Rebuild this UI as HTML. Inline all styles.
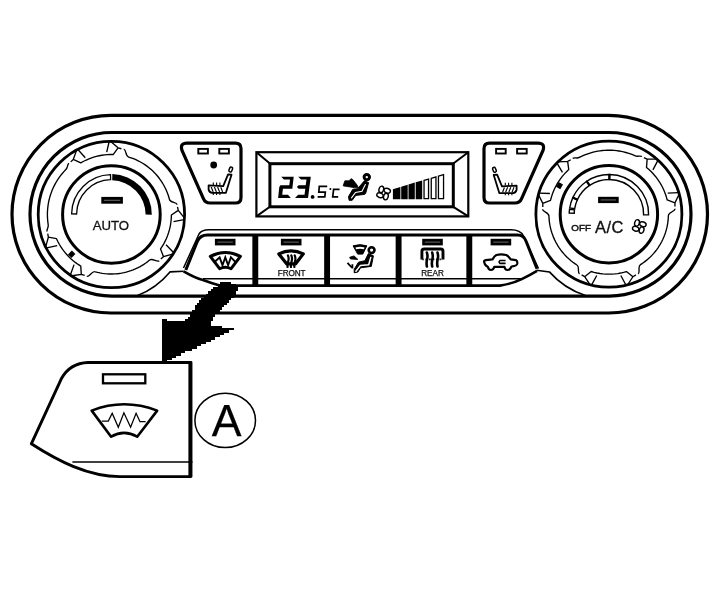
<!DOCTYPE html>
<html><head><meta charset="utf-8"><style>
html,body{margin:0;padding:0;background:#fff;}
svg{display:block;filter:grayscale(100%);}
text{font-family:"Liberation Sans",sans-serif;}
</style></head><body>
<svg width="720" height="591" viewBox="0 0 720 591">
<rect width="720" height="591" fill="#fff"/>
<rect x="12" y="115.4" width="695.5" height="197.6" rx="98.8" stroke="#000" fill="none" stroke-width="3.2"/>
<rect x="30" y="132.5" width="661" height="163.6" rx="81.8" stroke="#000" fill="none" stroke-width="3.2"/>
<circle cx="111.4" cy="214.5" r="73.2" stroke="#000" fill="none" stroke-width="2.8"/>
<path d="M111.02,141.70 L118.05,147.83 L121.46,148.77 M109.11,141.74 L106.71,152.18 M76.44,150.64 L73.26,159.42 L70.73,161.88 M78.12,149.75 L85.28,157.72 M45.86,246.18 L48.36,237.20 L47.74,233.72 M46.71,247.89 L57.16,245.56 M72.07,275.76 L81.30,274.36 L84.67,275.39 M70.48,274.71 L74.05,264.61 M172.46,254.15 L163.47,256.66 L160.82,259.00 M173.47,252.54 L166.06,244.80 M184.13,217.68 L178.28,210.41 L177.47,206.97 M184.02,219.58 L173.50,221.58 M118.05,147.83 L113.18,154.53 110.35,154.51 107.53,154.63 104.71,154.87 101.91,155.26 99.13,155.77 96.38,156.41 93.66,157.18 90.98,158.08 88.34,159.11 85.76,160.26 83.23,161.52 80.77,162.91 L73.26,159.42 M48.36,237.20 L56.50,238.71 57.83,241.51 59.29,244.24 60.90,246.89 62.63,249.46 64.50,251.93 66.50,254.30 68.61,256.56 70.84,258.71 73.17,260.75 75.61,262.66 78.15,264.44 80.77,266.09 L81.30,274.36 M163.47,256.66 L160.55,248.91 162.21,246.41 163.75,243.82 165.15,241.15 166.42,238.42 167.55,235.64 168.54,232.79 169.39,229.90 170.09,226.97 170.64,224.02 171.04,221.03 171.30,218.03 171.40,215.02 L178.28,210.41 M68.92,163.33 C66.73,165.24 68.41,167.09 65.60,169.80 L63.90,171.60 62.28,173.47 60.74,175.40 59.26,177.38 57.87,179.42 56.56,181.51 55.32,183.66 54.17,185.84 53.11,188.07 52.13,190.34 51.25,192.65 50.45,194.99 49.74,197.36 49.12,199.75 48.60,202.16 48.17,204.60 47.84,207.05 47.60,209.51 47.45,211.97 47.40,214.44 47.45,216.91 47.59,219.38 47.82,221.84 L48.15,224.29 C48.87,228.13 46.43,228.67 47.11,231.49 M86.81,276.29 C89.53,277.30 91.83,270.69 95.30,271.78 L97.63,272.39 99.99,272.90 102.36,273.31 104.75,273.63 107.15,273.85 109.56,273.97 111.97,274.00 114.38,273.93 116.78,273.76 119.17,273.49 121.56,273.13 123.92,272.67 126.27,272.11 128.59,271.46 130.88,270.72 133.14,269.89 135.37,268.96 137.55,267.94 139.70,266.84 141.79,265.65 143.84,264.38 145.83,263.03 147.77,261.59 L149.65,260.08 C152.36,257.66 157.18,262.74 159.24,260.69 M177.17,204.67 C176.68,201.81 170.30,203.05 169.49,199.48 L168.79,197.01 167.99,194.57 167.09,192.17 166.08,189.81 164.98,187.49 163.78,185.23 162.48,183.02 161.08,180.86 159.60,178.77 158.03,176.74 156.37,174.78 154.63,172.90 152.82,171.09 150.92,169.36 148.96,167.71 146.92,166.14 144.82,164.67 142.66,163.29 140.44,162.00 138.17,160.80 135.85,159.71 133.49,158.71 131.08,157.82 L128.64,157.03 C125.10,156.09 126.59,149.76 123.75,149.16" stroke="#000" fill="none" stroke-width="1.35" stroke-linejoin="round"/>
<rect x="69.2" y="251.5" width="5" height="5.5" fill="#000" transform="rotate(45 71.7 254.2)"/>
<circle cx="111.4" cy="214.5" r="48.8" stroke="#000" fill="none" stroke-width="3"/>
<path d="M71.60,213.94 A39.8,39.8 0 0 1 110.50,174.71 L110.61,179.71 A34.8,34.8 0 0 0 76.60,214.01 Z" stroke="#000" fill="none" stroke-width="1.3"/>
<path d="M112.32,174.11 A40.4,40.4 0 0 1 151.80,214.64 L145.60,214.62 A34.2,34.2 0 0 0 112.18,180.31 Z" fill="#000"/>
<rect x="101.3" y="196.9" width="21.6" height="6.8" fill="#000"/><path d="M103.89999999999999,200.3 L120.30000000000001,200.3" stroke="#777" stroke-width="0.9"/>
<text x="110.9" y="229.8" font-size="13.2" text-anchor="middle" fill="#111" stroke="#111" stroke-width="0.3">AUTO</text>
<circle cx="608.9" cy="214.2" r="73" stroke="#000" fill="none" stroke-width="2.8"/>
<path d="M538.68,194.99 L542.78,203.37 L542.80,206.90 M539.21,193.16 L549.91,193.54 M558.33,161.83 L567.65,161.40 L570.76,159.73 M556.98,163.17 L562.45,172.38 M656.47,159.09 L647.14,159.18 L643.94,157.68 M657.90,160.35 L652.94,169.85 M678.98,194.50 L674.94,202.91 L674.95,206.44 M678.44,192.67 L667.74,193.13 M627.74,284.52 L632.91,276.75 L635.95,274.95 M625.89,284.99 L620.83,275.55 M589.81,284.45 L584.67,276.67 L581.64,274.86 M591.66,284.93 L596.76,275.51 M542.78,203.37 L550.51,200.40 551.28,197.47 552.20,194.58 553.26,191.75 554.46,188.97 555.80,186.26 557.28,183.61 558.89,181.05 560.63,178.57 562.49,176.18 564.46,173.88 566.55,171.69 568.75,169.61 L567.65,161.40 M647.14,159.18 L646.50,167.44 648.99,169.56 651.36,171.81 653.61,174.19 655.73,176.69 657.70,179.29 659.53,182.01 661.21,184.81 662.74,187.71 664.10,190.68 665.30,193.73 666.33,196.83 667.19,199.99 L674.94,202.91 M632.91,276.75 L626.44,271.58 623.57,272.38 620.66,273.04 617.72,273.55 614.75,273.91 611.78,274.13 608.80,274.20 605.81,274.12 602.84,273.89 599.88,273.52 596.94,273.00 594.03,272.33 591.16,271.52 L584.67,276.67 M572.68,158.43 C575.15,156.90 576.42,159.06 579.84,157.18 L581.97,156.14 584.13,155.19 586.33,154.31 588.56,153.52 590.81,152.81 593.09,152.18 595.39,151.64 597.71,151.19 600.05,150.82 602.40,150.53 604.75,150.33 607.11,150.22 609.48,150.20 611.84,150.27 614.20,150.42 616.55,150.66 618.89,150.99 621.22,151.40 623.53,151.90 625.82,152.48 628.09,153.15 630.33,153.90 632.55,154.73 L634.73,155.64 C638.25,157.33 639.40,155.11 641.95,156.49 M675.18,208.75 C675.35,211.65 668.36,211.92 668.38,215.55 L668.28,218.00 668.07,220.45 667.76,222.88 667.36,225.30 666.85,227.70 666.24,230.08 665.54,232.43 664.74,234.75 663.85,237.03 662.86,239.28 661.78,241.48 660.61,243.63 659.35,245.74 658.01,247.79 656.58,249.79 655.07,251.73 653.49,253.60 651.83,255.40 650.09,257.14 648.29,258.80 646.42,260.38 644.48,261.89 642.48,263.32 L640.43,264.66 C637.29,266.49 640.63,272.64 638.05,273.97 M579.54,273.87 C576.97,272.53 580.09,266.83 576.93,264.97 L574.88,263.63 572.90,262.20 570.97,260.69 569.10,259.10 567.31,257.44 565.58,255.71 563.92,253.91 562.34,252.04 560.83,250.11 559.41,248.12 558.07,246.07 556.81,243.97 555.64,241.82 554.55,239.63 553.56,237.39 552.66,235.11 551.86,232.80 551.15,230.46 550.53,228.09 550.01,225.70 549.59,223.29 549.27,220.86 549.05,218.42 L548.93,215.98 C548.93,212.32 542.43,212.11 542.59,209.21" stroke="#000" fill="none" stroke-width="1.35" stroke-linejoin="round"/>
<rect x="557" y="183" width="5" height="5.5" fill="#000" transform="rotate(30 559.5 185.7)"/>
<circle cx="608.9" cy="214.2" r="48.7" stroke="#000" fill="none" stroke-width="3"/>
<path d="M569.22,213.02 A39.7,39.7 0 0 1 569.51,209.22 L574.47,209.85 A34.7,34.7 0 0 0 574.22,213.17 Z" stroke="#000" fill="none" stroke-width="1.4"/>
<path d="M569.69,207.99 A39.7,39.7 0 0 1 572.83,197.61 L577.37,199.70 A34.7,34.7 0 0 0 574.63,208.77 Z" stroke="#000" fill="none" stroke-width="1.4"/>
<path d="M572.83,197.61 A39.7,39.7 0 0 1 586.76,181.25 L589.55,185.40 A34.7,34.7 0 0 0 577.37,199.70 Z" stroke="#000" fill="none" stroke-width="1.4"/>
<path d="M586.76,181.25 A39.7,39.7 0 0 1 609.45,174.50 L609.38,179.50 A34.7,34.7 0 0 0 589.55,185.40 Z" stroke="#000" fill="none" stroke-width="1.4"/>
<path d="M609.45,174.50 A39.7,39.7 0 0 1 648.59,214.89 L643.59,214.81 A34.7,34.7 0 0 0 609.38,179.50 Z" stroke="#000" fill="none" stroke-width="1.4"/>
<path d="M577.56,199.78 L572.65,197.53" stroke="#000" fill="none" stroke-width="2.2"/>
<path d="M589.66,185.56 L586.65,181.08" stroke="#000" fill="none" stroke-width="2.2"/>
<path d="M609.38,179.70 L609.46,174.30" stroke="#000" fill="none" stroke-width="2.2"/>
<rect x="598.1" y="196.8" width="20.6" height="6.3" fill="#000"/><path d="M600.7,199.95000000000002 L616.1,199.95000000000002" stroke="#777" stroke-width="0.9"/>
<text x="571.2" y="230.5" font-size="9.8" fill="#111" stroke="#111" stroke-width="0.5" letter-spacing="0.1">OFF</text>
<text x="594.9" y="232.6" font-size="16.4" fill="#111" stroke="#111" stroke-width="0.35" letter-spacing="0.6">A/C</text>
<g transform="rotate(0 639.3 226.5)"><ellipse cx="637.00" cy="222.90" rx="2.30" ry="3.30" transform="rotate(18 637.00 222.90)" stroke="#000" fill="none" stroke-width="1.4"/></g><g transform="rotate(90 639.3 226.5)"><ellipse cx="637.00" cy="222.90" rx="2.30" ry="3.30" transform="rotate(18 637.00 222.90)" stroke="#000" fill="none" stroke-width="1.4"/></g><g transform="rotate(180 639.3 226.5)"><ellipse cx="637.00" cy="222.90" rx="2.30" ry="3.30" transform="rotate(18 637.00 222.90)" stroke="#000" fill="none" stroke-width="1.4"/></g><g transform="rotate(270 639.3 226.5)"><ellipse cx="637.00" cy="222.90" rx="2.30" ry="3.30" transform="rotate(18 637.00 222.90)" stroke="#000" fill="none" stroke-width="1.4"/></g>
<path d="M187,143.1 L235.5,143.1 Q241,143.1 241,148.6 L241,197.5 Q241,203 235.5,203 L210,203 Q205.2,203 203.4,198.6 L182,150.5 Q179.6,143.1 187,143.1 Z" stroke="#000" fill="none" stroke-width="3.2"/><rect x="198.3" y="148.9" width="9.6" height="4.6" fill="#fff" stroke="#000" stroke-width="1.9"/><rect x="219.3" y="148.9" width="9.6" height="4.6" fill="#fff" stroke="#000" stroke-width="1.9"/>
<circle cx="213.7" cy="165" r="3.4" fill="#000"/>
<rect x="229.3" y="167" width="2.9" height="5" rx="1.3" transform="rotate(22 230.7 169.5)" fill="#fff" stroke="#000" stroke-width="1.5"/><path d="M208.6,185.3 L223.2,186.1 L228.1,174.4 L231.5,174.7 L225.9,192.8 L212.3,192.8 Q209.3,192.6 208.6,189.5 Z" fill="#fff" stroke="#000" stroke-width="1.8" stroke-linejoin="round"/><path d="M211.2,187 L213.2,192 M214.4,187 L216.4,192 M217.6,187 L219.6,192 M220.8,187.2 L222.6,192" stroke="#000" fill="none" stroke-width="1.1"/><path d="M213.3,182.5 L213.3,185 M216.6,182.5 L216.6,185 M219.9,182.5 L219.9,185 M213.3,193 L213.3,195 M216.6,193 L216.6,195 M219.9,193 L219.9,195" stroke="#000" fill="none" stroke-width="1.1"/>
<g transform="translate(725,0) scale(-1,1)"><path d="M187,143.1 L235.5,143.1 Q241,143.1 241,148.6 L241,197.5 Q241,203 235.5,203 L210,203 Q205.2,203 203.4,198.6 L182,150.5 Q179.6,143.1 187,143.1 Z" stroke="#000" fill="none" stroke-width="3.2"/><rect x="198.3" y="148.9" width="9.6" height="4.6" fill="#fff" stroke="#000" stroke-width="1.9"/><rect x="219.3" y="148.9" width="9.6" height="4.6" fill="#fff" stroke="#000" stroke-width="1.9"/></g>
<g transform="translate(725.2,0.3) scale(-1,1)"><rect x="229.3" y="167" width="2.9" height="5" rx="1.3" transform="rotate(22 230.7 169.5)" fill="#fff" stroke="#000" stroke-width="1.5"/><path d="M208.6,185.3 L223.2,186.1 L228.1,174.4 L231.5,174.7 L225.9,192.8 L212.3,192.8 Q209.3,192.6 208.6,189.5 Z" fill="#fff" stroke="#000" stroke-width="1.8" stroke-linejoin="round"/><path d="M211.2,187 L213.2,192 M214.4,187 L216.4,192 M217.6,187 L219.6,192 M220.8,187.2 L222.6,192" stroke="#000" fill="none" stroke-width="1.1"/><path d="M213.3,182.5 L213.3,185 M216.6,182.5 L216.6,185 M219.9,182.5 L219.9,185 M213.3,193 L213.3,195 M216.6,193 L216.6,195 M219.9,193 L219.9,195" stroke="#000" fill="none" stroke-width="1.1"/></g>
<rect x="256.4" y="152.2" width="211.9" height="64.2" stroke="#000" fill="none" stroke-width="2.2"/>
<rect x="269.9" y="163.7" width="183.4" height="43.1" stroke="#000" fill="none" stroke-width="3"/>
<path d="M256.4,152.2 L269.9,163.5 M468.3,152.2 L453.3,163.5 M256.4,216.4 L269.9,206.8 M468.3,216.4 L453.3,206.8" stroke="#000" fill="none" stroke-width="2"/>
<path d="M281.2,176.7 L293.7,176.7 L292.3,188.7 L282.9,188.7 L282.2,194.8 L288.0,194.8 L290.8,197.9 L278.1,197.9 L279.3,187.0 L280.4,185.3 L289.3,185.3 L290.0,179.6 L283.9,179.6 Z" fill="#000"/>
<path d="M298.2,176.7 L310.8,176.7 L308.0,197.9 L295.0,197.9 L298.2,194.8 L304.5,194.8 L305.3,188.7 L298.6,188.7 L296.9,187.0 L298.6,185.3 L305.7,185.3 L306.5,179.6 L301.0,179.6 Z" fill="#000"/>
<circle cx="312.6" cy="196.9" r="1.9" fill="#000"/>
<path d="M327.2,186.3 L319.3,186.3 L318.8,192.2 L325.3,192.2 L324.8,196.8 L317.6,196.8" fill="none" stroke="#000" stroke-width="1.7" stroke-linejoin="miter"/>
<circle cx="330.4" cy="189.1" r="1" fill="#000"/>
<path d="M339.6,189.3 L333.6,189.3 L332.7,196.8 L338.2,196.8" fill="none" stroke="#000" stroke-width="1.7" stroke-linejoin="miter"/>
<circle cx="366.8" cy="177.1" r="2.7" fill="none" stroke="#000" stroke-width="3"/>
<path d="M364.4,180.8 L368.6,182.6 L365.6,193.6 L364.4,194.4 L355.8,195.4 L352.2,200.3 L349.1,200.3 L348.5,196.6 L352.8,189.3 L357.7,188.7 Z" fill="#000" stroke="#000" stroke-width="1" stroke-linejoin="round"/>
<path d="M365.4,184.5 L362,191.3 L355.5,192.4 L351.5,197.8" fill="none" stroke="#fff" stroke-width="1.1" stroke-linecap="round"/>
<path d="M343.3,185.3 L344.9,180.8 L349.1,180.8 L351,178.7 L352.8,179.6 L357.1,185.1 L358.3,187.5 L354,187.6 L343.3,185.9 Z" fill="#000" stroke="#000" stroke-width="0.8" stroke-linejoin="round"/>
<g transform="rotate(0 383.6 193.0)"><ellipse cx="381.30" cy="189.40" rx="2.30" ry="3.30" transform="rotate(18 381.30 189.40)" stroke="#000" fill="none" stroke-width="1.4"/></g><g transform="rotate(90 383.6 193.0)"><ellipse cx="381.30" cy="189.40" rx="2.30" ry="3.30" transform="rotate(18 381.30 189.40)" stroke="#000" fill="none" stroke-width="1.4"/></g><g transform="rotate(180 383.6 193.0)"><ellipse cx="381.30" cy="189.40" rx="2.30" ry="3.30" transform="rotate(18 381.30 189.40)" stroke="#000" fill="none" stroke-width="1.4"/></g><g transform="rotate(270 383.6 193.0)"><ellipse cx="381.30" cy="189.40" rx="2.30" ry="3.30" transform="rotate(18 381.30 189.40)" stroke="#000" fill="none" stroke-width="1.4"/></g>
<path d="M392.9,189.20 L400.4,186.94 L400.4,199.3 L392.9,199.3 Z" fill="#000"/>
<path d="M401.2,186.70 L407.7,184.75 L407.7,199.3 L401.2,199.3 Z" fill="#000"/>
<path d="M408.5,184.50 L414.8,182.61 L414.8,199.3 L408.5,199.3 Z" fill="#000"/>
<path d="M415.7,182.34 L422.2,180.38 L422.2,199.3 L415.7,199.3 Z" fill="#000"/>
<path d="M424.04999999999995,180.47 L428.55,179.12 L428.55,198.65 L424.04999999999995,198.65 Z" fill="#fff" stroke="#000" stroke-width="1.3"/>
<path d="M431.25,178.31 L435.95000000000005,176.89 L435.95000000000005,198.65 L431.25,198.65 Z" fill="#fff" stroke="#000" stroke-width="1.3"/>
<path d="M438.45,176.14 L443.55,174.60 L443.55,198.65 L438.45,198.65 Z" fill="#fff" stroke="#000" stroke-width="1.3"/>
<path d="M183.5,268 L199,234 Q201.5,229.8 209,229.8 L511,229.8 Q520.5,229.8 523.5,236 L538.5,268.5" stroke="#000" fill="none" stroke-width="1.5"/>
<path d="M185.8,270 L197.3,241.5 Q200,235 207.5,235 L517.5,235 Q523.8,235 526,241 L537,268.8" stroke="#000" fill="none" stroke-width="3"/>
<path d="M183.6,271.4 Q195,278 203,280 Q211,283 219.7,285.6 L500,285.6 Q513,283.5 521.7,279.2 Q530,275 537,270.8" stroke="#000" fill="none" stroke-width="2.6"/>
<path d="M203,278.8 L521.5,278.8" stroke="#000" fill="none" stroke-width="1.5"/>
<path d="M255.3,235 L255.3,285.6" stroke="#000" fill="none" stroke-width="5.9"/>
<path d="M327.1,235 L327.1,285.6" stroke="#000" fill="none" stroke-width="5.9"/>
<path d="M398.6,235 L398.6,285.6" stroke="#000" fill="none" stroke-width="5.9"/>
<path d="M469.3,235 L469.3,285.6" stroke="#000" fill="none" stroke-width="5.9"/>
<path d="M183.7,271.3 L170,271.9 A83,83 0 0 1 137.5,295.6" stroke="#000" fill="none" stroke-width="1.6"/>
<path d="M536.5,270.3 L549.4,271.9 A83,83 0 0 0 585.5,295.6" stroke="#000" fill="none" stroke-width="1.6"/>
<rect x="214.9" y="238.8" width="20.6" height="6.6" fill="#000"/><path d="M217.5,242.10000000000002 L232.9,242.10000000000002" stroke="#777" stroke-width="0.9"/>
<rect x="280.9" y="238.8" width="20.6" height="6.6" fill="#000"/><path d="M283.5,242.10000000000002 L298.9,242.10000000000002" stroke="#777" stroke-width="0.9"/>
<rect x="422.2" y="238.8" width="20.6" height="6.6" fill="#000"/><path d="M424.8,242.10000000000002 L440.2,242.10000000000002" stroke="#777" stroke-width="0.9"/>
<rect x="490.6" y="238.8" width="20.6" height="6.6" fill="#000"/><path d="M493.20000000000005,242.10000000000002 L508.6,242.10000000000002" stroke="#777" stroke-width="0.9"/>
<path d="M210.3,256.4 Q225.3,248.8 240.4,256.4 L231.1,268.7 Q225.3,265.6 219.6,268.7 Z" stroke="#000" fill="none" stroke-width="3" stroke-linejoin="round"/>
<path d="M214.3,262.2 L219.6,257.3 L222.5,265.2 L225.3,257.3 L228.1,265.2 L230.9,257.3 L235.6,262.2" stroke="#000" fill="none" stroke-width="1.9" stroke-linejoin="miter"/>
<path d="M278.8,253.9 Q291.1,247.8 303.3,253.9 L295.7,263.8 L286.6,263.8 Z" stroke="#000" fill="none" stroke-width="3.2" stroke-linejoin="round"/>
<path d="M287.9,255.4 Q289.2,258.5 288.2,261.3 Q287.2,264.2 287.6,267 M291.3,255.4 Q292.6,258.5 291.6,261.3 Q290.6,264.2 291,267 M294.7,255.4 Q296,258.5 295,261.3 Q294,264.2 294.4,267" stroke="#000" fill="none" stroke-width="2.2" stroke-linecap="round"/>
<text x="291.6" y="275.8" font-size="8.2" text-anchor="middle" fill="#111" stroke="#111" stroke-width="0.25" letter-spacing="-0.15">FRONT</text>
<circle cx="371.6" cy="250.1" r="2.9" stroke="#000" fill="none" stroke-width="2.6"/>
<path d="M368.4,253.6 L373.4,255.8 L371.3,266.4 L360.6,267.8 L357.8,272.1 L354.2,272.8 L354.2,269.3 L358.5,262.2 L364.9,260.7 Z" fill="#000" stroke="#000" stroke-width="1" stroke-linejoin="round"/>
<path d="M370.8,257.4 L368.7,264.7 L360.4,265.4 L355.9,271.2" fill="none" stroke="#fff" stroke-width="1.5" stroke-linecap="round" stroke-linejoin="round"/>
<path d="M353.1,245.8 Q360,243.5 366.8,245.8 L362.8,254.1 L357.7,254.1 Z" fill="#000" stroke="#000" stroke-width="1" stroke-linejoin="round"/>
<path d="M355.4,247.6 Q360,246.1 364.6,247.6 L363.9,249.2 Q360,248.2 356.1,249.2 Z" fill="#fff"/>
<path d="M349.7,257.3 L354,255.9 L357.8,259.4 L350.4,258.9 Z" fill="#000" stroke="#000" stroke-width="0.9" stroke-linejoin="round"/>
<path d="M347.5,262.9 L351.7,267.5 M352.4,264.3 L352.4,268.6" stroke="#000" fill="none" stroke-width="1.8"/>
<path d="M421.9,259.4 L421.9,251.3 Q421.9,249 424.2,249 L440.8,249 Q443,249 443,251.3 L443,259.4" stroke="#000" fill="none" stroke-width="2.9"/>
<path d="M421.9,259.4 L443,259.4" stroke="#333" stroke-width="1.8" stroke-dasharray="2 1.5"/>
<path d="M426.9,252.6 Q428,256 427,259.5 Q426.2,263 426.9,266.5 M432.2,252.6 Q433.3,256 432.3,259.5 Q431.5,263 432.2,266.5 M437.5,252.6 Q438.6,256 437.6,259.5 Q436.8,263 437.5,266.5" stroke="#000" fill="none" stroke-width="2.6" stroke-linecap="round"/>
<text x="432.5" y="275.8" font-size="8.2" text-anchor="middle" fill="#111" stroke="#111" stroke-width="0.25">REAR</text>
<path d="M484.3,262.4 Q483.5,260.5 485.8,260.1 L492.5,259.4 Q494.5,255.8 496.5,255 Q500.8,253.6 506.2,255 Q508.5,256 510.7,259.4 L515.8,260.1 Q517.8,261 517.2,264 Q516.5,266 513.8,266.2 L511.5,266.5 Q510,270 507.5,270 Q505,270 504.5,266.8 L494.3,266.8 Q493.5,270 491,270 Q488.5,270 487.8,266.8 Q484.8,265.8 484.3,262.4 Z" stroke="#000" fill="none" stroke-width="2.2" stroke-linejoin="round"/>
<path d="M505.6,260.5 L500,260.5 Q498.2,262 500,263.4 L505.6,263.4" stroke="#000" fill="none" stroke-width="1.6"/>
<g fill="#000" shape-rendering="crispEdges"><rect x="219.80" y="282.00" width="11.55" height="2.35"/><rect x="217.50" y="284.30" width="18.45" height="2.35"/><rect x="212.90" y="286.60" width="25.35" height="2.35"/><rect x="210.60" y="288.90" width="27.65" height="2.35"/><rect x="208.30" y="291.20" width="27.65" height="2.35"/><rect x="206.00" y="293.50" width="29.95" height="2.35"/><rect x="203.70" y="295.80" width="29.95" height="2.35"/><rect x="201.40" y="298.10" width="29.95" height="2.35"/><rect x="199.10" y="300.40" width="29.95" height="2.35"/><rect x="196.80" y="302.70" width="29.95" height="2.35"/><rect x="194.50" y="305.00" width="29.95" height="2.35"/><rect x="194.50" y="307.30" width="27.65" height="2.35"/><rect x="192.20" y="309.60" width="27.65" height="2.35"/><rect x="189.90" y="311.90" width="27.65" height="2.35"/><rect x="189.90" y="314.20" width="25.35" height="2.35"/><rect x="187.60" y="316.50" width="25.35" height="2.35"/><rect x="162.30" y="318.80" width="4.65" height="2.35"/><rect x="185.30" y="318.80" width="27.65" height="2.35"/><rect x="162.30" y="321.10" width="48.35" height="2.35"/><rect x="162.30" y="323.40" width="48.35" height="2.35"/><rect x="162.30" y="325.70" width="59.85" height="2.35"/><rect x="162.30" y="328.00" width="71.35" height="2.35"/><rect x="162.30" y="330.30" width="66.75" height="2.35"/><rect x="162.30" y="332.60" width="62.15" height="2.35"/><rect x="162.30" y="334.90" width="57.55" height="2.35"/><rect x="162.30" y="337.20" width="52.95" height="2.35"/><rect x="162.30" y="339.50" width="48.35" height="2.35"/><rect x="162.30" y="341.80" width="43.75" height="2.35"/><rect x="162.30" y="344.10" width="39.15" height="2.35"/><rect x="162.30" y="346.40" width="34.55" height="2.35"/><rect x="162.30" y="348.70" width="29.95" height="2.35"/><rect x="162.30" y="351.00" width="23.05" height="2.35"/><rect x="162.30" y="353.30" width="18.45" height="2.35"/><rect x="162.30" y="355.60" width="13.85" height="2.35"/><rect x="162.30" y="357.90" width="9.25" height="2.35"/><rect x="162.30" y="360.20" width="4.65" height="2.35"/></g>
<path d="M191,362.5 L88,362.5 Q70,363 61.3,378.8 L31.3,443.8 C58,461 88,476.6 120,476.6 L191,476.6 Z" stroke="#000" fill="none" stroke-width="2.9" stroke-linejoin="round"/>
<path d="M190,362.5 L190,476.3" stroke="#000" fill="none" stroke-width="3.2"/>
<path d="M72.4,462 L192.5,462" stroke="#000" fill="none" stroke-width="1.6"/>
<rect x="103" y="374.3" width="42.3" height="9" fill="#fff" stroke="#000" stroke-width="2.3"/>
<path d="M91.7,410.6 Q124,398 157.2,410.6 L137.2,436.7 Q124,429 111.1,436.7 Z" stroke="#000" fill="none" stroke-width="2.6" stroke-linejoin="round"/>
<path d="M101.7,421.1 L108.3,421.1 L112.2,413.3 L118.3,427.2 L123.9,412.8 L130.6,427.2 L136.1,413.3 L140,421.7 L145.6,421.7" stroke="#000" fill="none" stroke-width="1.3"/>
<ellipse cx="225.2" cy="420.4" rx="30.3" ry="27.2" stroke="#000" fill="none" stroke-width="1.5"/>
<text x="226.7" y="435.6" font-size="44.6" text-anchor="middle" fill="#000" stroke="#000" stroke-width="0.25">A</text>
</svg>
</body></html>
